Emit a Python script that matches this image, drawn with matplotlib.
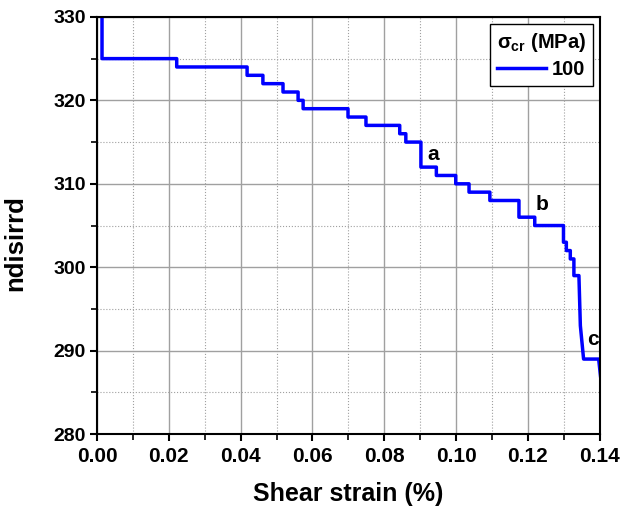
import numpy as np
import matplotlib
matplotlib.use("Agg")
import matplotlib.pyplot as plt
from matplotlib.ticker import MultipleLocator

plt.rcParams['font.family'] = ['Liberation Sans', 'DejaVu Sans']
plt.rcParams['font.weight'] = 'bold'
plt.rcParams['mathtext.fontset'] = 'custom'
plt.rcParams['mathtext.rm'] = 'Liberation Sans:bold'
plt.rcParams['mathtext.it'] = 'Liberation Sans:bold'
plt.rcParams['mathtext.bf'] = 'Liberation Sans:bold'

# stepped part of the curve: strain where each level starts, and the level
step_strain = [0.0014, 0.0014, 0.0222, 0.0418, 0.0462, 0.0518, 0.0560, 0.0574,
               0.0699, 0.0749, 0.0843, 0.0860, 0.0902, 0.0945, 0.0999, 0.1036,
               0.1094, 0.1175, 0.1219, 0.1299, 0.1307, 0.1318, 0.1328, 0.1342]
step_ndis = [331, 325, 324, 323, 322, 321, 320, 319,
             318, 317, 316, 315, 312, 311, 310, 309,
             308, 306, 305, 303, 302, 301, 299, 299]

# steep tail near the end
tail_strain = [0.1346, 0.1355, 0.1397, 0.1402]
tail_ndis = [293, 289, 289, 287]

labels = ['a', 'b', 'c']
label_strain = [0.0935, 0.1238, 0.1380]
label_ndis = [313.5, 307.5, 291.3]

xs = np.repeat(step_strain, 2)[1:]
ys = np.repeat(step_ndis, 2)[:-1]
xs = np.concatenate([xs, tail_strain])
ys = np.concatenate([ys, tail_ndis])

fig = plt.figure(figsize=(6.36, 5.12), dpi=100)
ax = fig.add_axes([0.1525, 0.152, 0.7905, 0.815])

ax.plot(xs, ys, color='#0000ff', lw=2.5, label='100')

for lab, x, y in zip(labels, label_strain, label_ndis):
    ax.text(x, y, lab, fontsize=15, fontweight='bold', ha='center', va='center')

ax.set_xlim(0, 0.14)
ax.set_ylim(280, 330)
ax.xaxis.set_major_locator(MultipleLocator(0.02))
ax.xaxis.set_minor_locator(MultipleLocator(0.01))
ax.yaxis.set_major_locator(MultipleLocator(10))
ax.yaxis.set_minor_locator(MultipleLocator(5))
ax.xaxis.set_major_formatter(matplotlib.ticker.FormatStrFormatter('%.2f'))

ax.grid(which='major', color='#a0a0a0', lw=1.0, ls='-')
ax.grid(which='minor', color='#a0a0a0', lw=0.8, ls=':')
ax.set_axisbelow(True)

ax.tick_params(which='major', direction='out', length=5, width=1.5)
ax.tick_params(which='minor', direction='out', length=4, width=1.2)
ax.tick_params(axis='x', labelsize=15, pad=4)
ax.tick_params(axis='y', labelsize=14, pad=3)
for lab in ax.get_xticklabels() + ax.get_yticklabels():
    lab.set_fontweight('bold')
for sp in ax.spines.values():
    sp.set_linewidth(1.5)

ax.set_xlabel('Shear strain (%)', fontsize=18, fontweight='bold', labelpad=12)
ax.set_ylabel('ndisirrd', fontsize=18.5, fontweight='bold')
ax.yaxis.set_label_coords(-0.139, 0.458)

leg = ax.legend(title=r'σ$_\mathrm{cr}$ (MPa)', loc='upper right',
                title_fontsize=14.5, fancybox=False, framealpha=1, edgecolor='black',
                handlelength=2.45, handletextpad=0.3, borderaxespad=0.34,
                borderpad=0.35, labelspacing=0.3,
                prop={'weight': 'bold', 'size': 14.5})
leg.get_title().set_fontweight('bold')
leg.get_frame().set_linewidth(1.0)

fig.savefig('out.png', dpi=100)
